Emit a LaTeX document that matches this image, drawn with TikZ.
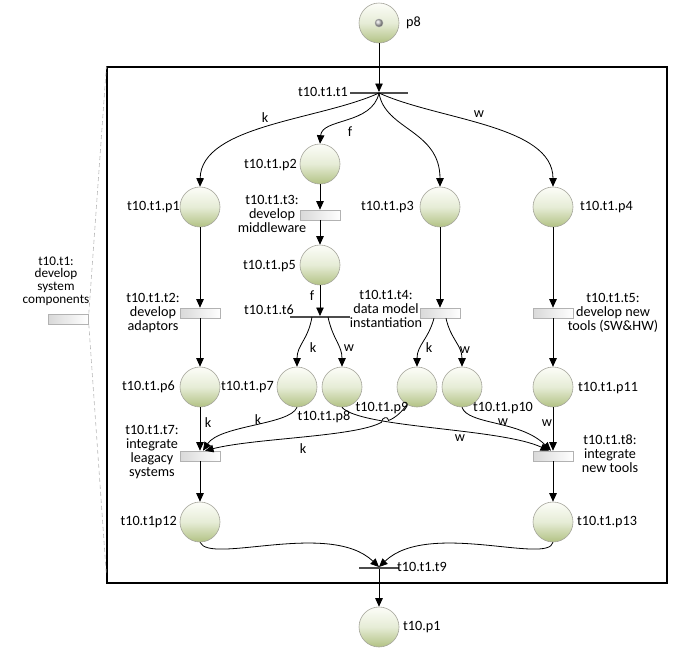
\documentclass[tikz,border=0pt]{standalone}
\usepackage{fontspec}
\setmainfont{Carlito}
\usetikzlibrary{arrows.meta}
\definecolor{placetop}{RGB}{252,253,248}
\definecolor{placemid}{RGB}{230,236,214}
\definecolor{placebot}{RGB}{178,194,132}
\definecolor{placeedge}{RGB}{165,165,155}
\begin{document}
\begin{tikzpicture}[x=1pt,y=-1pt,
  every node/.style={font=\fontsize{14.2}{14}\selectfont},
  place/.style={circle,minimum size=40pt,inner sep=0pt,draw=placeedge,line width=0.6pt,
    top color=placetop,bottom color=placebot,middle color=placemid},
  trans/.style={rectangle,minimum width=40pt,minimum height=10pt,inner sep=0pt,
    draw=gray!60,line width=0.6pt,left color=gray!30,right color=white},
  bar/.style={rectangle,inner sep=0pt,minimum height=1.6pt,fill=black!70,draw=none},
  flow/.style={draw=black,line width=0.8pt,-{Triangle[length=8.5pt,width=7.5pt]}},
  lbl/.style={inner sep=0pt,align=center},
  subnet/.style={draw=black,line width=1.2pt,rectangle,inner sep=0pt,fill=none},
  zoomline/.style={draw=gray!55,line width=0.6pt,dash pattern=on 4pt off 3pt}]
\useasboundingbox (0,0) rectangle (675,651);

% sub-net frame
\node[subnet,minimum width=560pt,minimum height=516pt] (sub) at (387,325) {};

% places
\node[place] (p8) at (379,23) {};
\node[circle,inner sep=0pt,minimum size=8pt,draw=gray!70,line width=0.4pt,ball color=gray!45] (tok) at (379,23) {};
\node[place] (p1) at (200,207) {};
\node[place] (p2) at (320,164) {};
\node[place] (p3) at (440,207) {};
\node[place] (p4) at (553,207) {};
\node[place] (p5) at (320,265) {};
\node[place] (p6) at (200,387) {};
\node[place] (p7) at (297,387) {};
\node[place] (p8b) at (342,387) {};
\node[place] (p9) at (417,387) {};
\node[place] (p10) at (462,387) {};
\node[place] (p11) at (553,387) {};
\node[place] (p12) at (200,522) {};
\node[place] (p13) at (553,522) {};
\node[place] (tp1) at (379,627) {};

% transitions
\node[bar,minimum width=58pt] (t1) at (379,93) {};
\node[trans] (t3) at (320,215) {};
\node[bar,minimum width=60pt] (t6) at (320,317) {};
\node[trans] (t2) at (200,313) {};
\node[trans] (t4) at (440,313) {};
\node[trans] (t5) at (553,313) {};
\node[trans] (t7) at (200,456) {};
\node[trans] (t8) at (553,456) {};
\node[bar,minimum width=40pt] (t9) at (379,568) {};
\node[trans] (tt1) at (68.5,319) {};

% zoom lines
\draw[zoomline] (tt1.north east) -- (sub.north west);
\draw[zoomline] (tt1.south east) -- ([yshift=8pt]sub.south west);

% arcs
\draw[flow] (p8) -- (t1.north);
\draw[flow] (t1.center) .. controls (320,120) and (201,125) .. (p1.north);
\draw[flow] (t1.center) .. controls (372,125) and (322,118) .. (p2.north);
\draw[flow] (t1.center) .. controls (385,130) and (440,130) .. (p3.north);
\draw[flow] (t1.center) .. controls (438,120) and (553,125) .. (p4.north);
\draw[flow] (p1.south) -- (t2.north);
\draw[flow] (p2.south) -- (t3.north);
\draw[flow] (t3.south) -- (p5.north);
\draw[flow] (p5.south) -- (t6.north);
\draw[flow] (p3.south) -- (t4.north);
\draw[flow] (p4.south) -- (t5.north);
\draw[flow] (t2.south) -- (p6.north);
\draw[flow] (t5.south) -- (p11.north);
\draw[flow] ([xshift=-8pt]t6.center) .. controls (308,340) and (297,345) .. (p7.north);
\draw[flow] ([xshift=8pt]t6.center) .. controls (333,340) and (342,345) .. (p8b.north);
\draw[flow] ([xshift=-6pt]t4.south) .. controls (428,340) and (417,345) .. (p9.north);
\draw[flow] ([xshift=6pt]t4.south) .. controls (451,340) and (462,345) .. (p10.north);
\draw[flow] (p6.south) -- (t7.north);
\draw[flow] (p11.south) -- (t8.north);
\draw[flow] (p7.south) .. controls (290,425) and (220,425) .. ([xshift=3pt]t7.north);
\coordinate (hA) at (388.5,420.5);
\coordinate (hB) at (381.5,422.3);
\draw[flow] (p9.240) .. controls (402,412) and (395,418) .. (hA)
   .. controls +(0,-5) and +(0,-5) .. (hB)
   .. controls (355,437) and (255,438) .. ([xshift=5pt]t7.north);
\draw[flow] (p8b.south) .. controls (360,428) and (500,428) .. ([xshift=-4pt]t8.north);
\draw[flow] (p10.south) .. controls (468,425) and (520,420) .. ([xshift=-2pt]t8.north);
\draw[flow] (t7.south) -- (p12.north);
\draw[flow] (t8.south) -- (p13.north);
\draw[flow] (p12.south) .. controls (210,565) and (330,520) .. (t9.north);
\draw[flow] (p13.south) .. controls (548,565) and (428,520) .. (t9.north);
\draw[flow] (t9.south) -- (tp1.north);

% node labels
\node[lbl,anchor=west] (lp8) at (406,23) {p8};
\node[lbl,anchor=east] (lt1) at (348,92) {t10.t1.t1};
\node[lbl,anchor=east] (lp1) at (180,207) {t10.t1.p1};
\node[lbl,anchor=east] (lp2) at (297,165) {t10.t1.p2};
\node[lbl,anchor=east] (lp3) at (414,207) {t10.t1.p3};
\node[lbl,anchor=west] (lp4) at (580,207) {t10.t1.p4};
\node[lbl] (lt3) at (272,214) {t10.t1.t3:\\develop\\middleware};
\node[lbl,anchor=east] (lp5) at (296,266) {t10.t1.p5};
\node[lbl] (lt2) at (153,313) {t10.t1.t2:\\develop\\adaptors};
\node[lbl,anchor=east] (lt6) at (294,310) {t10.t1.t6};
\node[lbl] (lt4) at (386,308.5) {t10.t1.t4:\\data model\\instantiation};
\node[lbl] (lt5) at (613,313) {t10.t1.t5:\\develop new\\tools (SW\&HW)};
\node[lbl,anchor=east] (lp6) at (175,387) {t10.t1.p6};
\node[lbl,anchor=east] (lp7) at (274,387) {t10.t1.p7};
\node[lbl] (lp8b) at (324,417) {t10.t1.p8};
\node[lbl] (lp9) at (382,408) {t10.t1.p9};
\node[lbl] (lp10) at (503,408) {t10.t1.p10};
\node[lbl,anchor=west] (lp11) at (578,388) {t10.t1.p11};
\node[lbl] (lt7) at (152,452) {t10.t1.t7:\\integrate\\leagacy\\systems};
\node[lbl] (lt8) at (610,454) {t10.t1.t8:\\integrate\\new tools};
\node[lbl,anchor=east] (lp12) at (177,522) {t10.t1p12};
\node[lbl,anchor=west] (lp13) at (577,522) {t10.t1.p13};
\node[lbl,anchor=west] (lt9) at (397,567) {t10.t1.t9};
\node[lbl,anchor=west] (ltp1) at (403,627) {t10.p1};
\node[lbl,font=\fontsize{13.2}{12.6}\selectfont] (ltt1) at (56,281) {t10.t1:\\develop\\system\\components};

% arc labels
\node[lbl] (a1) at (265,118) {k};
\node[lbl] (a2) at (350,132) {f};
\node[lbl] (a3) at (479,114) {w};
\node[lbl] (a4) at (312,296) {f};
\node[lbl] (a5) at (313,348) {k};
\node[lbl] (a6) at (349,348) {w};
\node[lbl] (a7) at (429,348) {k};
\node[lbl] (a8) at (465,350) {w};
\node[lbl] (a9) at (208,423) {k};
\node[lbl] (a10) at (258,420) {k};
\node[lbl] (a11) at (303,449) {k};
\node[lbl] (a12) at (460,438) {w};
\node[lbl] (a13) at (503,422) {w};
\node[lbl] (a14) at (547,423) {w};
\end{tikzpicture}
\end{document}
